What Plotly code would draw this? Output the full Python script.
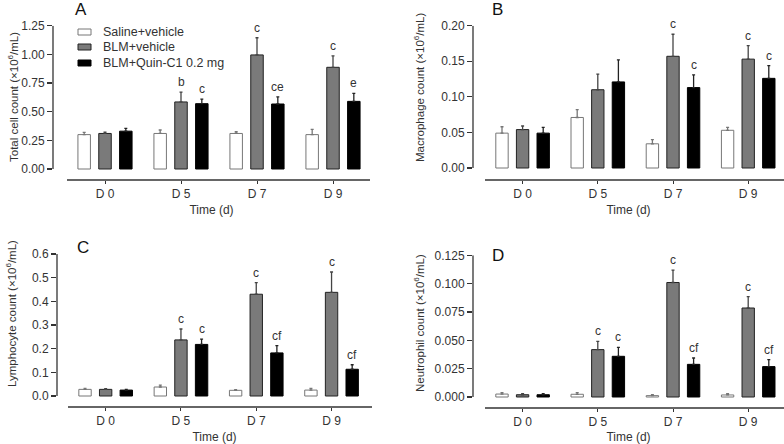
import plotly.graph_objects as go

W, H = 784, 444

days = ["D 0", "D 5", "D 7", "D 9"]
groups = ["Saline+vehicle", "BLM+vehicle", "BLM+Quin-C1 0.2 mg"]

# Panel A: total cell count
A_saline = [0.30, 0.31, 0.31, 0.30]
A_saline_err = [0.02, 0.03, 0.015, 0.045]
A_blm = [0.31, 0.585, 0.995, 0.887]
A_blm_err = [0.012, 0.085, 0.15, 0.10]
A_quin = [0.33, 0.57, 0.567, 0.59]
A_quin_err = [0.025, 0.04, 0.063, 0.07]
A_blm_sig = ["", "b", "c", "c"]
A_quin_sig = ["", "c", "ce", "e"]

# Panel B: macrophage count
B_saline = [0.049, 0.071, 0.034, 0.053]
B_saline_err = [0.009, 0.011, 0.006, 0.004]
B_blm = [0.054, 0.110, 0.157, 0.153]
B_blm_err = [0.005, 0.022, 0.031, 0.019]
B_quin = [0.049, 0.121, 0.113, 0.126]
B_quin_err = [0.008, 0.031, 0.018, 0.018]
B_blm_sig = ["", "", "c", "c"]
B_quin_sig = ["", "", "c", "c"]

# Panel C: lymphocyte count
C_saline = [0.028, 0.038, 0.024, 0.025]
C_saline_err = [0.004, 0.008, 0.003, 0.007]
C_blm = [0.028, 0.237, 0.43, 0.438]
C_blm_err = [0.003, 0.046, 0.049, 0.086]
C_quin = [0.025, 0.218, 0.182, 0.113]
C_quin_err = [0.003, 0.022, 0.031, 0.019]
C_blm_sig = ["", "c", "c", "c"]
C_quin_sig = ["", "c", "cf", "cf"]

# Panel D: neutrophil count
D_saline = [0.0026, 0.0024, 0.0012, 0.0018]
D_saline_err = [0.0012, 0.0014, 0.0008, 0.0012]
D_blm = [0.002, 0.0418, 0.101, 0.0785]
D_blm_err = [0.001, 0.0072, 0.011, 0.010]
D_quin = [0.002, 0.0359, 0.0288, 0.0268]
D_quin_err = [0.001, 0.0079, 0.0056, 0.0062]
D_blm_sig = ["", "c", "c", "c"]
D_quin_sig = ["", "c", "cf", "cf"]

A_ticks = [0.00, 0.25, 0.50, 0.75, 1.00, 1.25]
B_ticks = [0.00, 0.05, 0.10, 0.15, 0.20]
C_ticks = [0.0, 0.1, 0.2, 0.3, 0.4, 0.5, 0.6]
D_ticks = [0.000, 0.025, 0.050, 0.075, 0.100, 0.125]

FONT = "Liberation Sans, Arial, sans-serif"
TXT = "#333333"
AX = "#333333"
fills = ["#ffffff", "#7a7a7a", "#000000"]
edges = ["#777777", "#222222", "#000000"]
errcols = ["#777777", "#444444", "#222222"]
BARGAP, GROUPGAP = 0.178, 0.4
SLOT = (1 - BARGAP) / 3  # category units between neighbouring bars

# layout geometry in pixels
panels = [
    dict(key="A", sal=(A_saline, A_saline_err), blm=(A_blm, A_blm_err), quin=(A_quin, A_quin_err),
         sig=(A_blm_sig, A_quin_sig), ticks=A_ticks, fmt="{:.2f}",
         title="Total cell count (×10<sup>6</sup>/mL)", title_xy=(13, 97),
         yaxis_x=53, line=(67, 370), unit=76.0, top=25.7, zero=169, bottom=180, letter=(73, 9)),
    dict(key="B", sal=(B_saline, B_saline_err), blm=(B_blm, B_blm_err), quin=(B_quin, B_quin_err),
         sig=(B_blm_sig, B_quin_sig), ticks=B_ticks, fmt="{:.2f}",
         title="Macrophage count (×10<sup>6</sup>/mL)", title_xy=(419, 88),
         yaxis_x=473, line=(485, 784), unit=75.2, top=25.7, zero=168, bottom=180, letter=(490, 9)),
    dict(key="C", sal=(C_saline, C_saline_err), blm=(C_blm, C_blm_err), quin=(C_quin, C_quin_err),
         sig=(C_blm_sig, C_quin_sig), ticks=C_ticks, fmt="{:.1f}",
         title="Lymphocyte count (×10<sup>6</sup>/mL)", title_xy=(11, 314),
         yaxis_x=57, line=(68, 372), unit=75.3, top=254, zero=396, bottom=407, letter=(75, 247)),
    dict(key="D", sal=(D_saline, D_saline_err), blm=(D_blm, D_blm_err), quin=(D_quin, D_quin_err),
         sig=(D_blm_sig, D_quin_sig), ticks=D_ticks, fmt="{:.3f}",
         title="Neutrophil count (×10<sup>6</sup>/mL)", title_xy=(419, 323),
         yaxis_x=473, line=(485, 784), unit=75.2, top=255.3, zero=397, bottom=408, letter=(490, 255)),
]

fig = go.Figure()
layout = {}
shapes = []
annotations = []

for i, p in enumerate(panels):
    n = "" if i == 0 else str(i + 1)
    xa, ya = "x" + n, "y" + n
    series = [p["sal"], p["blm"], p["quin"]]
    for j, (vals, errs) in enumerate(series):
        fig.add_trace(go.Bar(
            x=days, y=vals, name=groups[j], xaxis=xa, yaxis=ya,
            marker=dict(color=fills[j], line=dict(color=edges[j], width=1)),
            error_y=dict(type="data", array=errs, arrayminus=[0] * len(errs), symmetric=False,
                         color=errcols[j], thickness=1.3, width=1.5),
            showlegend=False, hoverinfo="skip",
        ))
    ymax = p["ticks"][-1]
    span = p["zero"] - p["top"]
    ymin = -(p["bottom"] - p["zero"]) / span * ymax
    x0px, x1px = p["line"]
    u = p["unit"]
    xr0 = -0.5 - (x0px - p["yaxis_x"]) / u
    xr1 = -0.5 + (x1px - x0px) / u
    layout["xaxis" + n] = dict(
        domain=[p["yaxis_x"] / W, x1px / W], anchor=ya, range=[xr0, xr1],
        type="category", categoryorder="array", categoryarray=days,
        showline=False, ticks="outside", ticklen=3, tickcolor=AX, tickwidth=1,
        tickfont=dict(family=FONT, size=12, color=TXT),
        title=dict(text="Time (d)", font=dict(family=FONT, size=12, color=TXT), standoff=5),
        showgrid=False, zeroline=False, automargin=False, fixedrange=True,
    )
    layout["yaxis" + n] = dict(
        domain=[1 - p["bottom"] / H, 1 - p["top"] / H], anchor=xa,
        range=[ymin, ymax], tickvals=p["ticks"], ticktext=[p["fmt"].format(t) for t in p["ticks"]],
        showline=False, ticks="outside", ticklen=5, tickcolor=AX, tickwidth=1.2,
        tickfont=dict(family=FONT, size=12, color=TXT),
        showgrid=False, zeroline=False, automargin=False, fixedrange=True,
    )
    # y axis line from 0 to max, x axis line offset below
    shapes.append(dict(type="line", xref=xa + " domain", yref=ya, x0=0, x1=0,
                       y0=0, y1=ymax, line=dict(color=AX, width=1.3)))
    shapes.append(dict(type="line", xref=xa, yref=ya + " domain", x0=-0.5, x1=xr1,
                       y0=0, y1=0, line=dict(color=AX, width=1.3)))
    annotations.append(dict(text=p["title"], xref="paper", yref="paper", x=p["title_xy"][0] / W,
                            y=1 - p["title_xy"][1] / H, textangle=-90, showarrow=False,
                            xanchor="center", yanchor="middle",
                            font=dict(family=FONT, size=11.5, color=TXT)))
    annotations.append(dict(text=p["key"], xref="paper", yref="paper", x=p["letter"][0] / W,
                            y=1 - p["letter"][1] / H, xanchor="left", yanchor="middle", showarrow=False,
                            font=dict(family=FONT, size=17, color="#111111")))
    for j, (sigs, off) in enumerate(zip(p["sig"], [0, SLOT])):
        vals, errs = series[j + 1]
        for k, s in enumerate(sigs):
            if s:
                annotations.append(dict(text=s, xref=xa, yref=ya, x=k + off, y=vals[k] + errs[k],
                                        yshift=1, xanchor="center", yanchor="bottom",
                                        showarrow=False, font=dict(family=FONT, size=12, color=TXT)))

# manual legend in panel A
leg_rows = [32, 47, 63]
for j, g in enumerate(groups):
    yc = 1 - leg_rows[j] / H
    shapes.append(dict(type="rect", xref="paper", yref="paper",
                       x0=78 / W, x1=91 / W, y0=yc - 3 / H, y1=yc + 3 / H,
                       fillcolor=fills[j], line=dict(color=edges[j], width=1)))
    annotations.append(dict(text=g, xref="paper", yref="paper", x=101 / W, y=yc,
                            xanchor="left", yanchor="middle", showarrow=False,
                            font=dict(family=FONT, size=12.5, color=TXT)))

fig.update_layout(
    width=W, height=H, margin=dict(l=0, r=0, t=0, b=0),
    paper_bgcolor="white", plot_bgcolor="white",
    barmode="group", bargap=BARGAP, bargroupgap=GROUPGAP,
    font=dict(family=FONT, size=12, color=TXT),
    showlegend=False, hovermode=False,
    shapes=shapes, annotations=annotations,
    **layout,
)

fig.write_html("out.html", config={"displayModeBar": False, "staticPlot": True},
               post_script="document.body.style.margin='0px';")
